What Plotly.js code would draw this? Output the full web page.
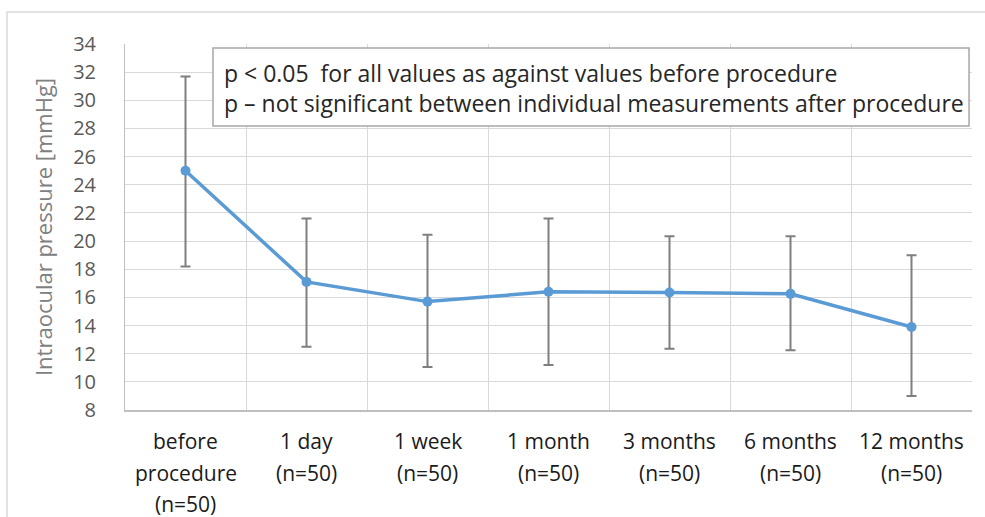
<!DOCTYPE html>
<html>
<head>
<meta charset="utf-8">
<script src="https://cdn.plot.ly/plotly-3.0.1.min.js"></script>
<style>
html,body{margin:0;padding:0;background:#fff;}
#chart{width:985px;height:517px;}
</style>
</head>
<body>
<div id="chart"></div>
<script>
// ---- data ----
const categories = ['before procedure', '1 day', '1 week', '1 month', '3 months', '6 months', '12 months'];
const tickLines = [
  ['before', 'procedure', '(n=50)'],
  ['1 day', '(n=50)'],
  ['1 week', '(n=50)'],
  ['1 month', '(n=50)'],
  ['3 months', '(n=50)'],
  ['6 months', '(n=50)'],
  ['12 months', '(n=50)']
];
const meanIOP = [25.0, 17.1, 15.7, 16.4, 16.35, 16.25, 13.9];
const errPlus = [6.7, 4.5, 4.75, 5.2, 4.0, 4.1, 5.1];
const errMinus = [6.8, 4.6, 4.65, 5.2, 4.0, 4.0, 4.9];
const yTicks = [8, 10, 12, 14, 16, 18, 20, 22, 24, 26, 28, 30, 32, 34];
const noteLines = [
  'p < 0.05  for all values as against values before procedure',
  'p \u2013 not significant between individual measurements after procedure'
];
const yTitle = 'Intraocular pressure [mmHg]';

// ---- chart ----
const FONT = 'Open Sans, Liberation Sans, sans-serif';

const trace = {
  type: 'scatter',
  mode: 'lines+markers',
  x: categories,
  y: meanIOP,
  line: {color: '#5b9bd5', width: 3.5},
  marker: {color: '#5b9bd5', size: 10, symbol: 'circle'},
  error_y: {
    type: 'data', symmetric: false,
    array: errPlus, arrayminus: errMinus,
    color: '#7f7f7f', thickness: 2, width: 5
  },
  hoverinfo: 'x+y'
};

const annotations = [];
tickLines.forEach((lines, i) => {
  lines.forEach((t, j) => {
    annotations.push({
      xref: 'x', yref: 'paper', x: categories[i], y: 0,
      yanchor: 'middle', xanchor: 'center',
      yshift: -(31 + j * 31.5),
      text: t, showarrow: false,
      font: {family: FONT, size: 21, color: '#1a1a1a'}
    });
  });
});
const noteY = [0.9208, 0.8388];
noteLines.forEach((t, j) => {
  annotations.push({
    xref: 'paper', yref: 'paper', x: 0.1145, y: noteY[j],
    xanchor: 'left', yanchor: 'middle',
    text: t, showarrow: false,
    font: {family: FONT, size: 23, color: '#262626'}
  });
});

const layout = {
  width: 985, height: 517,
  margin: {l: 125, r: 13, t: 44, b: 107},
  paper_bgcolor: '#ffffff',
  plot_bgcolor: '#ffffff',
  showlegend: false,
  xaxis: {
    type: 'category',
    range: [-0.5, 6.5],
    tickson: 'boundaries',
    showgrid: true, gridcolor: '#d9d9d9', gridwidth: 1,
    showline: true, linecolor: '#bfbfbf', linewidth: 1.5,
    showticklabels: false, ticks: '',
    fixedrange: true
  },
  yaxis: {
    range: [8, 34],
    tickvals: yTicks,
    ticktext: yTicks.map(String),
    showgrid: true, gridcolor: '#d9d9d9', gridwidth: 1,
    showline: true, linecolor: '#bfbfbf', linewidth: 1,
    zeroline: false,
    ticks: '',
    ticklabelstandoff: 24,
    tickfont: {family: FONT, size: 20, color: '#595959'},
    title: {text: yTitle, standoff: 14, font: {family: FONT, size: 22, color: '#808080'}},
    fixedrange: true
  },
  shapes: [
    {type: 'rect', xref: 'paper', yref: 'paper', x0: -0.1393, x1: 1.03, y0: -0.4, y1: 1.0874,
     line: {color: '#d9d9d9', width: 1.5}, fillcolor: 'rgba(0,0,0,0)', layer: 'below'},
    {type: 'rect', xref: 'paper', yref: 'paper', x0: 0.1039, x1: 0.9965, y0: 0.776, y1: 0.989,
     line: {color: '#a6a6a6', width: 1.5}, fillcolor: '#ffffff', layer: 'above'}
  ],
  annotations: annotations
};

Plotly.newPlot('chart', [trace], layout, {displayModeBar: false, staticPlot: true});
</script>
</body>
</html>
